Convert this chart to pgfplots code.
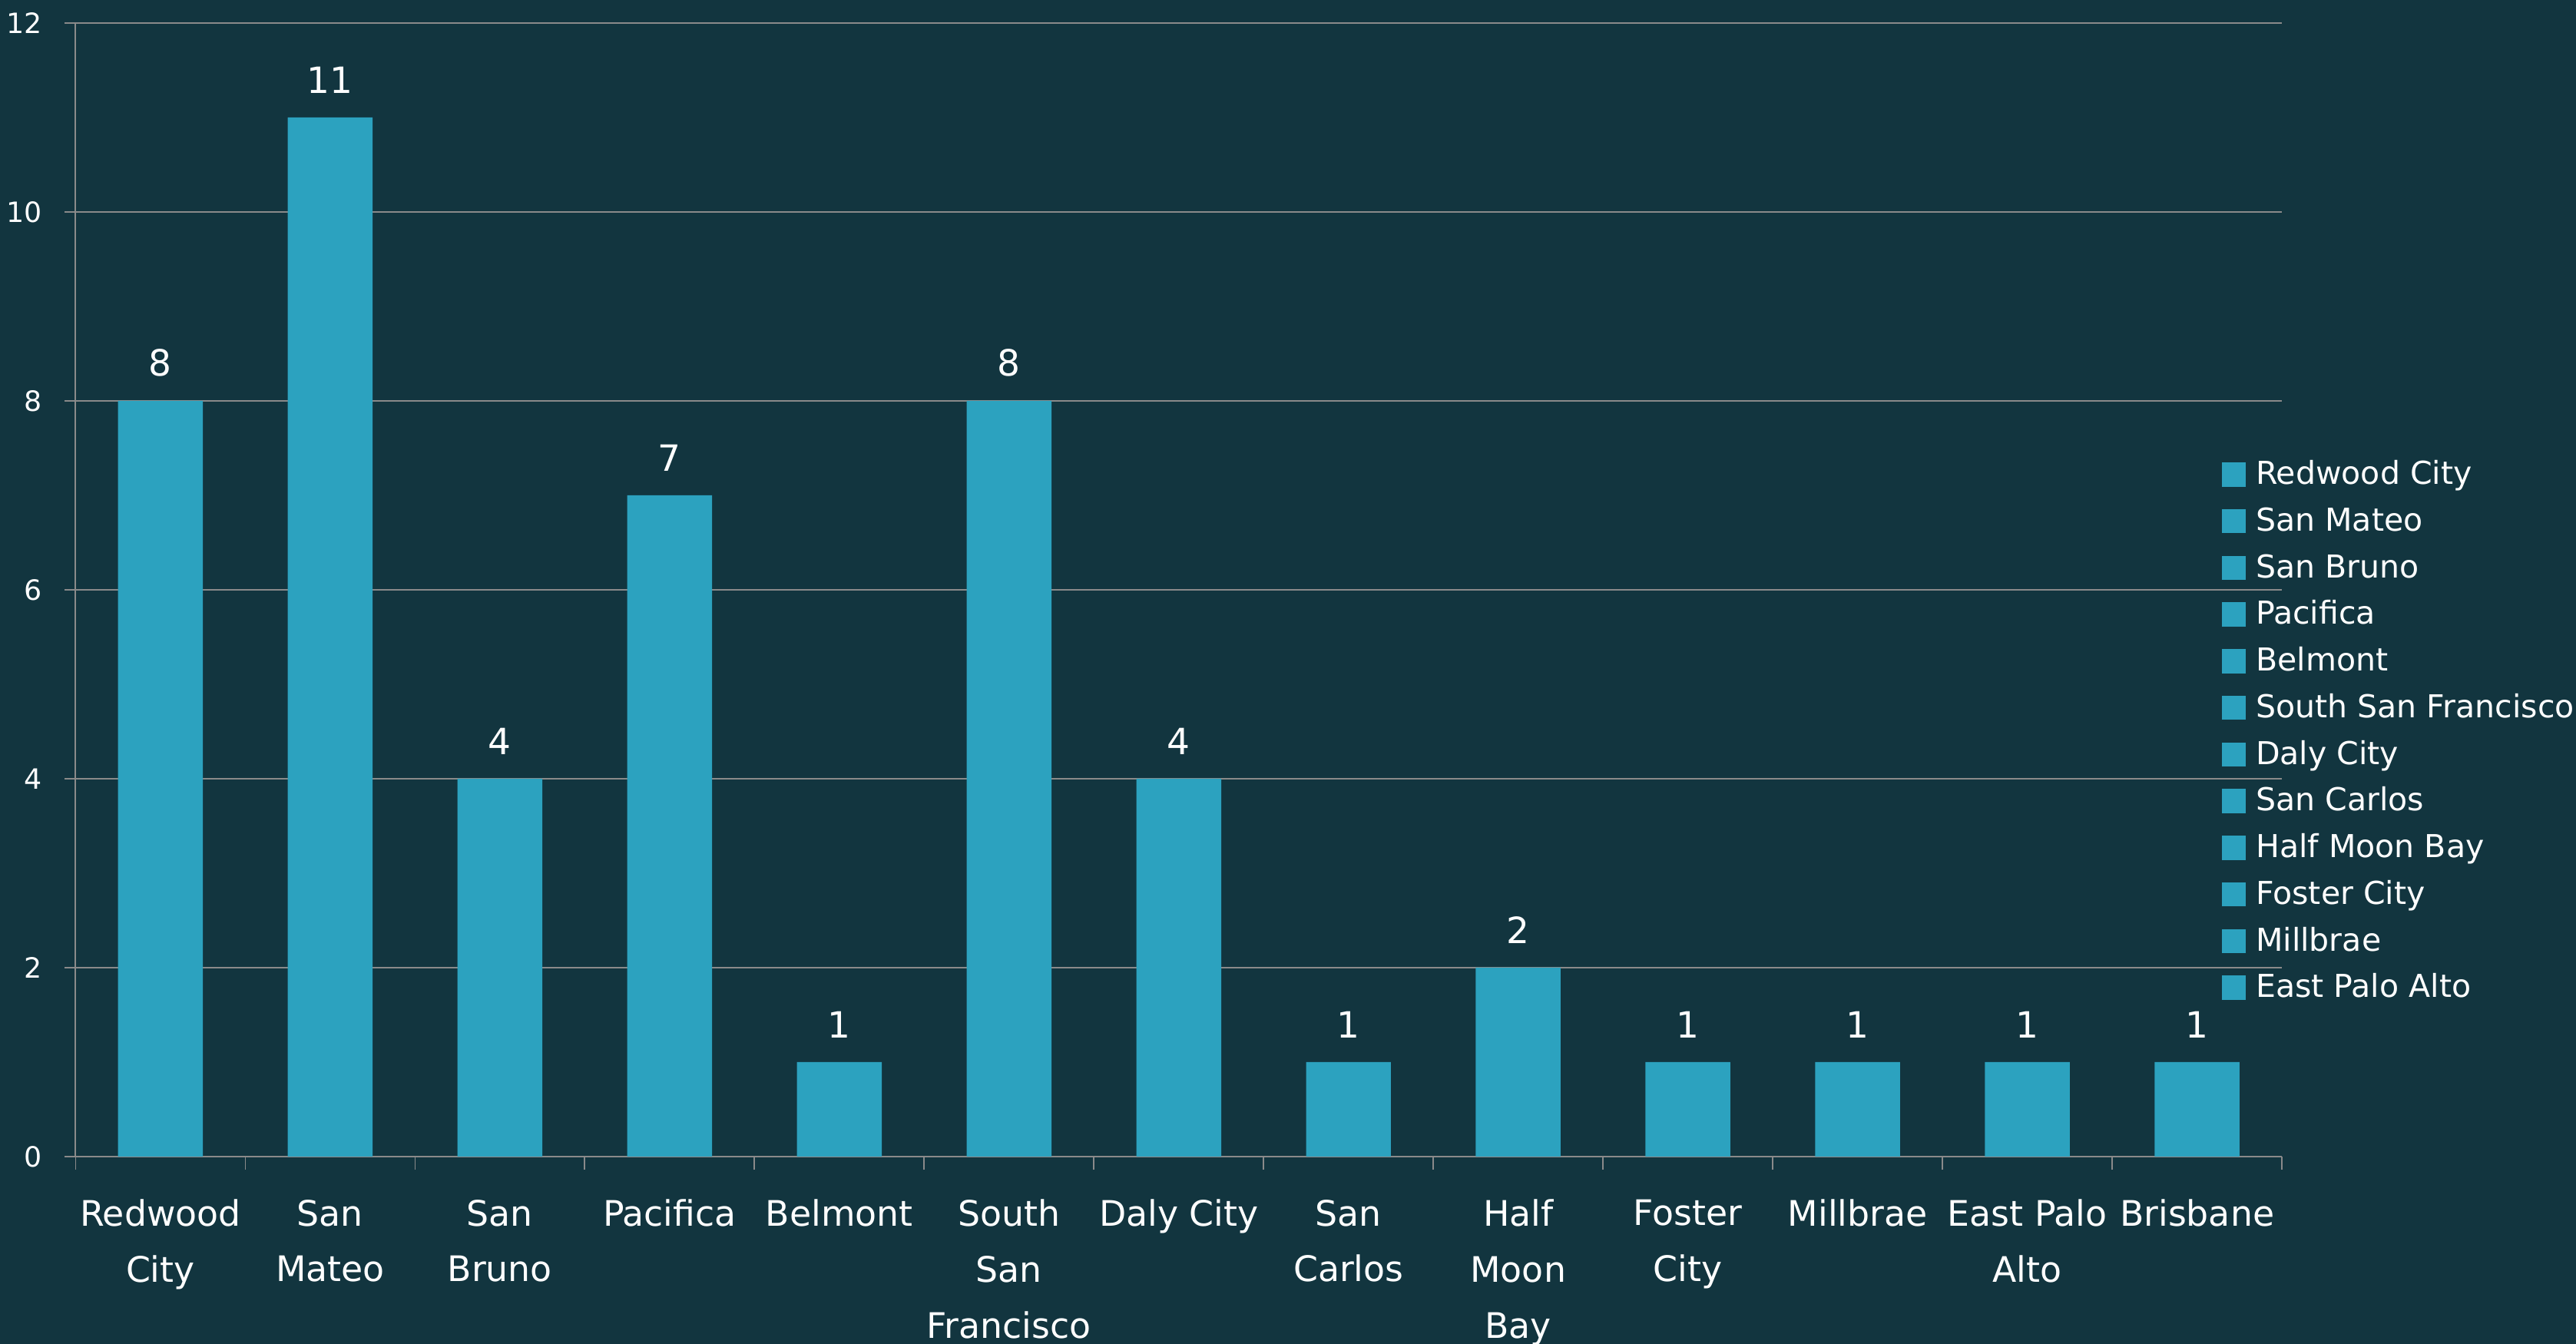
\documentclass[border=0pt]{standalone}
\usepackage{pgfplots}
\pgfplotsset{compat=1.18}
\usepackage{fontspec}
\setmainfont{DejaVu Sans}
\definecolor{bgc}{HTML}{12353F}
\definecolor{barc}{HTML}{2CA2BF}
\definecolor{gridc}{HTML}{8A8A8A}
\begin{document}
\begin{tikzpicture}
\path[use as bounding box, fill=bgc] (0,0) rectangle (784pt,409pt);
\begin{axis}[
  at={(23pt,57pt)}, anchor=south west,
  scale only axis, width=671.5pt, height=345pt,
  xmin=-0.5, xmax=12.5, ymin=0, ymax=12,
  ytick={0,2,...,12},
  xtick={0,...,12},
  xticklabels={Redwood\\City, San\\Mateo, San\\Bruno, Pacifica, Belmont, South\\San\\Francisco, Daly City, San\\Carlos, Half\\Moon\\Bay, Foster\\City, Millbrae, East Palo\\Alto, Brisbane},
  minor xtick={-0.5,0.5,...,12.5},
  axis x line*=bottom, axis y line*=left,
  axis line style={gridc, line width=0.5pt, -},
  ymajorgrids, grid style={gridc, line width=0.4pt},
  tick align=outside,
  major tick length=3.3pt, minor tick length=4pt,
  tick style={gridc, line width=0.4pt},
  major x tick style={draw=none},
  /pgf/number format/assume math mode=true,
  yticklabel style={text=white, font=\fontsize{8.5}{10}\selectfont, xshift=-3.3pt},
  xticklabel style={text=white, font=\fontsize{10.7}{17}\selectfont, align=center, anchor=north, yshift=-6.3pt},
  nodes near coords,
  every node near coord/.append style={text=white, font=\fontsize{11}{13}\selectfont, yshift=3.8pt},
  legend image code/.code={\fill[barc] (0pt,-3pt) rectangle (7pt,4pt);},
  legend cell align=left,
  legend style={draw=none, fill=none, text=white, font=\fontsize{9.6}{11}\selectfont,
    at={(0.9724,0.6147)}, anchor=north west, inner sep=0pt, row sep=4.6pt, column sep=3pt,
    nodes={inner sep=0pt, text height=7.3pt, text depth=2.3pt}},
]
\addplot[ybar, bar width=0.5, fill=barc, draw=none, forget plot] coordinates {
(0,8) (1,11) (2,4) (3,7) (4,1) (5,8) (6,4) (7,1) (8,2) (9,1) (10,1) (11,1) (12,1)};
\addlegendimage{}\addlegendentry{Redwood City}
\addlegendimage{}\addlegendentry{San Mateo}
\addlegendimage{}\addlegendentry{San Bruno}
\addlegendimage{}\addlegendentry{Pacifica}
\addlegendimage{}\addlegendentry{Belmont}
\addlegendimage{}\addlegendentry{South San Francisco}
\addlegendimage{}\addlegendentry{Daly City}
\addlegendimage{}\addlegendentry{San Carlos}
\addlegendimage{}\addlegendentry{Half Moon Bay}
\addlegendimage{}\addlegendentry{Foster City}
\addlegendimage{}\addlegendentry{Millbrae}
\addlegendimage{}\addlegendentry{East Palo Alto}
\end{axis}
\end{tikzpicture}
\end{document}
